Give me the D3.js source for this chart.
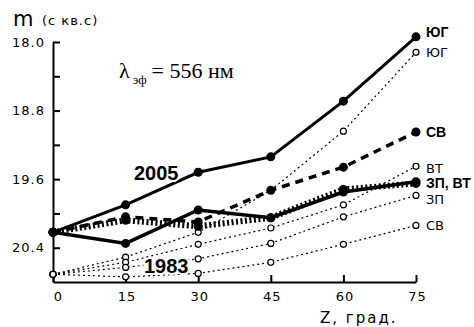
<!DOCTYPE html>
<html lang="en">
<head>
  <meta charset="UTF-8">
  <title>m vs Z</title>
  <script src="https://d3js.org/d3.v7.min.js"></script>
  <style>
    body { margin: 0; background: #fff; }
    .tick text { font-family: "DejaVu Sans", sans-serif; font-size: 13px; letter-spacing: 1px; fill: #000; }
  </style>
</head>
<body>
<script>
  // zenith angles, degrees
  const zenith = [0, 15, 30, 45, 60, 75];

  // 2005 (bold marks)
  const yug2005 = [20.22, 19.90, 19.52, 19.34, 18.69, 17.94];
  const sv2005 = [20.22, 20.04, 20.10, 19.73, 19.46, 19.05];
  const zp2005 = [20.22, 20.35, 19.96, 20.05, 19.75, 19.63];
  const vt2005 = [20.22, 20.08, 20.15, 20.05, 19.72, 19.65];

  // 1983 (open circles)
  const yug1983 = [20.71, 20.51, 20.22, 19.73, 19.04, 18.12];
  const vt1983 = [20.71, 20.57, 20.36, 20.17, 19.90, 19.45];
  const zp1983 = [20.71, 20.63, 20.53, 20.35, 20.04, 19.79];
  const sv1983 = [20.71, 20.74, 20.70, 20.57, 20.36, 20.14];

  const yTicks = [18.0, 18.4, 18.8, 19.2, 19.6, 20.0, 20.4];
  const yTickLabels = ['18.0', '18.8', '19.6', '20.4'];
  const xTicks = [0, 15, 30, 45, 60, 75];

  const width = 474, height = 327;

  const svg = d3.select('body').append('svg')
    .attr('width', width)
    .attr('height', height);

  const x = d3.scaleLinear().domain([0, 75]).range([53, 416]);
  const y = d3.scaleLinear().domain([18.0, 20.8]).range([42, 282]);

  // axes, ticks pointing inward
  const yAxis = d3.axisLeft(y)
    .tickValues(yTicks)
    .tickSize(-7)
    .tickSizeOuter(0)
    .tickPadding(8)
    .tickFormat(d => yTickLabels.includes(d.toFixed(1)) ? d.toFixed(1) : '');

  const xAxis = d3.axisBottom(x)
    .tickValues(xTicks)
    .tickSize(-7)
    .tickSizeOuter(0)
    .tickPadding(10)
    .tickFormat(d3.format('d'));

  const gx = svg.append('g')
    .attr('transform', `translate(0,${y(20.8)})`)
    .call(xAxis);
  gx.selectAll('.tick text').attr('dx', (d, i) => i === 0 ? 5 : 1);

  const gy = svg.append('g')
    .attr('transform', `translate(${x(0)},0)`)
    .call(yAxis);

  svg.selectAll('.domain, .tick line')
    .attr('stroke', '#000')
    .attr('stroke-width', 2);

  const line = d3.line()
    .x((d, i) => x(zenith[i]))
    .y(d => y(d));

  // 1983 series: thin dotted with open circles
  const s1983 = [
    { name: 'ЮГ', values: yug1983 },
    { name: 'ВТ', values: vt1983 },
    { name: 'ЗП', values: zp1983 },
    { name: 'СВ', values: sv1983 }
  ];

  s1983.forEach(s => {
    svg.append('path')
      .attr('d', line(s.values))
      .attr('fill', 'none')
      .attr('stroke', '#000')
      .attr('stroke-width', 1.2)
      .attr('stroke-dasharray', '2,3');
  });

  // 2005 series: heavy lines
  const s2005 = [
    { name: 'ЮГ', values: yug2005, w: 3, dash: null },
    { name: 'СВ', values: sv2005, w: 3.5, dash: '8,6' },
    { name: 'ВТ', values: vt2005, w: 6, dash: '2,2.5' },
    { name: 'ЗП', values: zp2005, w: 3.5, dash: null }
  ];

  s2005.forEach(s => {
    svg.append('path')
      .attr('d', line(s.values))
      .attr('fill', 'none')
      .attr('stroke', '#000')
      .attr('stroke-width', s.w)
      .attr('stroke-dasharray', s.dash);
  });

  s1983.forEach(s => {
    svg.selectAll(null)
      .data(s.values)
      .enter()
      .append('circle')
      .attr('cx', (d, i) => x(zenith[i]))
      .attr('cy', d => y(d))
      .attr('r', 3)
      .attr('fill', '#fff')
      .attr('stroke', '#000')
      .attr('stroke-width', 1.2);
  });

  s2005.forEach(s => {
    svg.selectAll(null)
      .data(s.values)
      .enter()
      .append('circle')
      .attr('cx', (d, i) => x(zenith[i]))
      .attr('cy', d => y(d))
      .attr('r', 4.5)
      .attr('fill', '#000');
  });

  // year labels, white halo hides the lines behind them
  const yearLabel = (txt, xx, yy) => svg.append('text')
    .attr('x', xx).attr('y', yy)
    .attr('font-family', 'Liberation Sans, Arial, sans-serif')
    .attr('font-weight', 'bold')
    .attr('font-size', 20)
    .attr('stroke', '#fff')
    .attr('stroke-width', 4)
    .attr('paint-order', 'stroke')
    .attr('fill', '#000')
    .text(txt);
  yearLabel('2005', 134, 180);
  yearLabel('1983', 144, 273);

  // end-of-line labels
  const endLabels2005 = [
    { text: 'ЮГ', v: yug2005[5], dy: -5 },
    { text: 'СВ', v: sv2005[5], dy: 0 },
    { text: 'ЗП, ВТ', v: zp2005[5], dy: 1 }
  ];
  const endLabels1983 = [
    { text: 'ЮГ', v: yug1983[5], dy: 0 },
    { text: 'ВТ', v: vt1983[5], dy: 2 },
    { text: 'ЗП', v: zp1983[5], dy: 4 },
    { text: 'СВ', v: sv1983[5], dy: 0 }
  ];

  endLabels2005.forEach(l => {
    svg.append('text')
      .attr('x', x(75) + 10)
      .attr('y', y(l.v) + l.dy)
      .attr('dy', '0.36em')
      .attr('font-family', 'Liberation Sans, Arial, sans-serif')
      .attr('font-weight', 'bold')
      .attr('font-size', 14)
      .text(l.text);
  });
  endLabels1983.forEach(l => {
    svg.append('text')
      .attr('x', x(75) + 10)
      .attr('y', y(l.v) + l.dy)
      .attr('dy', '0.36em')
      .attr('font-family', 'DejaVu Sans, sans-serif')
      .attr('font-size', 13)
      .text(l.text);
  });

  // axis titles
  svg.append('text')
    .attr('x', 13).attr('y', 26)
    .attr('font-family', 'DejaVu Sans, sans-serif')
    .attr('font-size', 21)
    .text('m');
  svg.append('text')
    .attr('x', 42).attr('y', 25)
    .attr('font-family', 'DejaVu Sans, sans-serif')
    .attr('font-size', 13)
    .attr('letter-spacing', 1)
    .text('(с кв.с)');

  svg.append('text')
    .attr('x', 320).attr('y', 323)
    .attr('font-family', 'DejaVu Sans, sans-serif')
    .attr('font-size', 15)
    .attr('letter-spacing', 2)
    .text('Z, град.');

  // effective wavelength note
  const note = svg.append('text')
    .attr('x', 119).attr('y', 78)
    .attr('font-family', 'Liberation Serif, Times New Roman, serif')
    .attr('font-size', 22);
  note.append('tspan').text('λ');
  note.append('tspan').attr('font-size', 13).attr('dy', 6).attr('dx', 3).text('эф');
  note.append('tspan').attr('dy', -6).attr('dx', 5).text('= 556 нм');
</script>
</body>
</html>
